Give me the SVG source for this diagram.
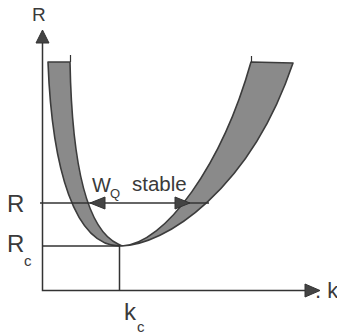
<svg xmlns="http://www.w3.org/2000/svg" width="337" height="334" viewBox="0 0 337 334">
<style>
.ax{stroke:#333;stroke-width:1.5;fill:none}
.ah{fill:#444;stroke:#333;stroke-width:1}
.band{fill:#8a8a8a;stroke:#3c3c3c;stroke-width:1.6;stroke-linejoin:round}
.t{font-family:"Liberation Sans",Arial,sans-serif;fill:#3a3a3a}
</style>
<rect width="337" height="334" fill="#fff"/>
<g id="band">
<path class="band" d="M48,62 C52,170 75,246 120,246 C165,246 250,190 293,63 L251,62 C222,165 165,244 122,246 L118,244 C88,230 72,170 70,62 Z"/>
<path class="ax" d="M70.5,62 V55 M251.5,62 V56" style="stroke-width:1.2"/>
</g>
<g id="connectors">
<path class="ax" d="M42.5,42 V290.5 H306"/>
<polygon class="ah" points="42.5,30 36,43 49,43"/>
<polygon class="ah" points="320,290.5 305,284 305,297"/>
<path class="ax" d="M40,203 H209"/>
<polygon class="ah" points="90,203 105,197 105,209"/>
<polygon class="ah" points="190,203 175,197 175,209"/>
<path class="ax" d="M42.5,246 H120 M119.5,246 V290.5"/>
</g>
<g id="labels">
<text class="t" x="32" y="21" font-size="19">R</text>
<text class="t" x="315" y="298" font-size="22">. k</text>
<text class="t" x="7" y="212" font-size="24">R</text>
<text class="t" x="7" y="252" font-size="24">R</text>
<text class="t" x="24" y="266" font-size="15">c</text>
<text class="t" x="124" y="320" font-size="24">k</text>
<text class="t" x="137" y="332" font-size="15">c</text>
<text class="t" x="92" y="192" font-size="20">W</text>
<text class="t" x="110" y="198" font-size="13">Q</text>
<text class="t" x="132" y="191" font-size="20.5">stable</text>
</g>
</svg>
